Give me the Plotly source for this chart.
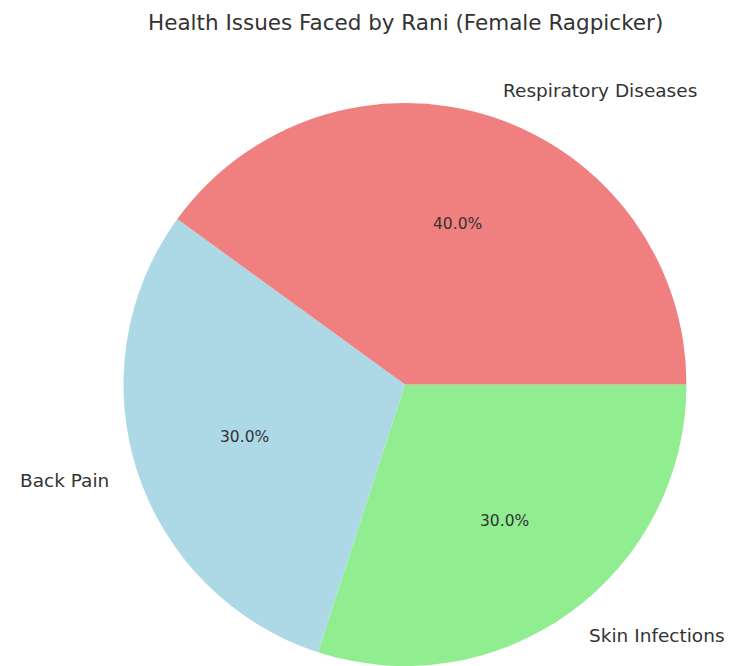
import math
import plotly.graph_objects as go

labels = ["Respiratory Diseases", "Back Pain", "Skin Infections"]
values = [40, 30, 30]
colors = ["#F08080", "#ADD8E6", "#90EE90"]
title = "Health Issues Faced by Rani (Female Ragpicker)"

W, H = 729, 666
# pie domain (paper fractions)
top_px = 103
avail = H - top_px
R = avail / 2.0
cx_px = 405.0
cy_px_from_bottom = R
dom_x = [(cx_px - R) / W, (cx_px + R) / W]
dom_y = [0.0, avail / H]

# slices go counterclockwise from 3 o'clock: draw reversed order clockwise
fig = go.Figure()
fig.add_trace(go.Pie(
    labels=labels[::-1], values=values[::-1], sort=False,
    direction="clockwise", rotation=90,
    marker=dict(colors=colors[::-1], line=dict(width=0)),
    textinfo="none", hoverinfo="skip", showlegend=False,
    domain=dict(x=dom_x, y=dom_y),
))

total = sum(values)
start = 0.0
annotations = []
for lab, v in zip(labels, values):
    frac = v / total
    mid = math.radians((start + frac / 2) * 360)
    start += frac
    c, s = math.cos(mid), math.sin(mid)
    # percentage at 0.6 radius
    annotations.append(dict(
        x=(cx_px + 0.6 * R * c) / W, y=(cy_px_from_bottom + 0.6 * R * s) / H,
        xref="paper", yref="paper", text=f"{frac*100:.1f}%", showarrow=False,
        xanchor="center", yanchor="middle",
        font=dict(family="DejaVu Sans", size=15.5, color="#333333")))
    # label at 1.1 radius
    annotations.append(dict(
        x=(cx_px + 1.1 * R * c) / W, y=(cy_px_from_bottom + 1.1 * R * s) / H,
        xref="paper", yref="paper", text=lab, showarrow=False,
        xanchor="left" if c > 0 else "right", yanchor="middle",
        font=dict(family="DejaVu Sans", size=18.5, color="#333333")))

annotations.append(dict(
    x=405 / W, y=1 - 22 / H, xref="paper", yref="paper",
    text=title, showarrow=False, xanchor="center", yanchor="middle",
    font=dict(family="DejaVu Sans", size=21.5, color="#333333")))

fig.update_layout(
    width=W, height=H, margin=dict(l=0, r=0, t=0, b=0),
    paper_bgcolor="white", plot_bgcolor="white",
    annotations=annotations,
)
fig.write_html("out.html")
